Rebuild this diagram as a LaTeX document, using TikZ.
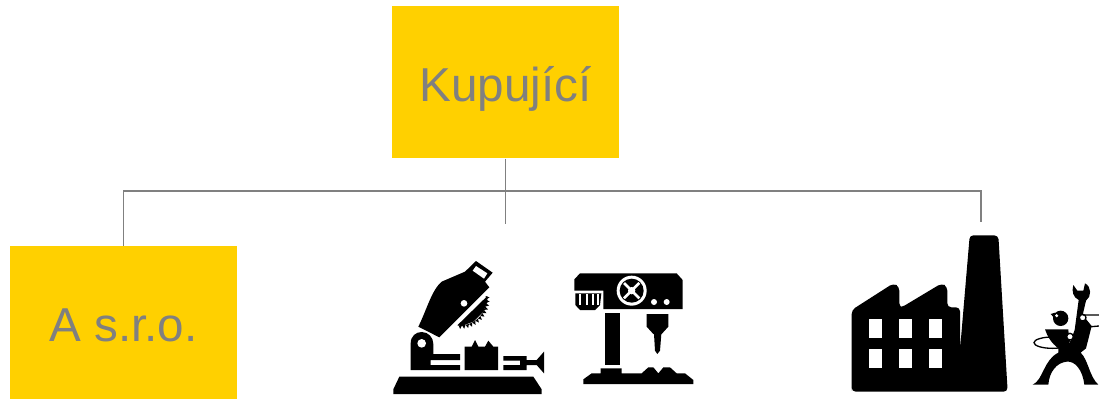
\documentclass[tikz,border=0pt]{standalone}
\usepackage{fontspec}
\setmainfont{Liberation Sans}
\usepackage{xcolor}
\usepackage{tikz}
\usetikzlibrary{positioning,calc}
\definecolor{signal}{RGB}{255,208,0}
\definecolor{slate}{RGB}{128,128,128}
\newcommand{\boxtext}[1]{{\fontsize{35.7}{40}\selectfont\color{slate}\raisebox{-14.5pt}[0pt][0pt]{#1}}}

\begin{document}
\begin{tikzpicture}[
  x=0.75pt,y=-0.75pt,
  party/.style={rectangle,fill=signal,minimum width=170.25pt,minimum height=114.5pt,
    inner sep=0pt,align=center},
  link/.style={slate,line width=1.3pt},
  solid icon/.style={fill=black},
  cutout/.style={fill=white},
  zoomed/.style={x=0.25pt,y=-0.25pt}
]
\useasboundingbox (0,0) rectangle (1099,400);
\node[party] (buyer) at (505.5,82) {\boxtext{Kupující}};
\node[party] (firm) at (123.5,322.5) {\boxtext{A s.r.o.}};
\coordinate (bus) at (505.5,191);
\coordinate (tools) at (505.5,224);
\coordinate (plant) at (981,222);
\draw[link] (buyer.south) -- (tools);
\draw[link] (bus) -| (firm.north);
\draw[link] (bus) -| (plant);

% saw
\begin{scope}[shift={(370,230)},zoomed]
\fill[solid icon] (70,492) -- (70,478) -- (88,440) -- (490,440) -- (515,478) -- (515,492) -- cycle;
\fill[solid icon] (122,420) -- (122,340) .. controls (122,318) and (138,306) .. (155,306)
  .. controls (175,306) and (190,322) .. (190,342) -- (190,372) -- (270,372) -- (270,390)
  -- (182,390) -- (182,405) -- (270,405) -- (270,420) -- cycle;
\fill[cutout] (155,340) circle[radius=13];
\fill[solid icon] (284,420) -- (284,350) -- (305,350) -- (315,330) -- (325,350) -- (345,350)
  -- (355,332) -- (370,350) -- (384,350) -- (384,420) -- cycle;
\fill[solid icon] (400,420) -- (400,405) -- (450,405) -- (450,392) -- (400,392) -- (400,378)
  -- (470,378) -- (470,390) -- (500,390) -- (522,365) -- (522,430) -- (500,405) -- (470,405)
  -- (470,420) -- cycle;
\fill[solid icon] (145,290) .. controls (170,240) and (185,180) .. (215,155) -- (285,125)
  -- (318,93) -- (368,128) -- (345,155) -- (358,172) -- (208,322) -- cycle;
\fill[cutout] (318,108) -- (352,130) -- (342,146) -- (308,122) -- cycle;
\fill[cutout] (282,220) circle[radius=10];
\fill[solid icon] (352,198) -- (262,286) -- (275,288) -- (310,275) -- (340,245) -- (352,215) -- cycle;
\foreach \a in {-5,3,...,95}
  \fill[solid icon] ({272+76*cos(\a-4)},{210+76*sin(\a-4)}) -- ({272+87*cos(\a)},{210+87*sin(\a)})
    -- ({272+76*cos(\a+4)},{210+76*sin(\a+4)}) -- cycle;
\end{scope}

% drill press
\begin{scope}[shift={(370,230)},zoomed]
\fill[solid icon] (613,182) -- (613,148) -- (630,130) -- (920,130) -- (938,150) -- (938,237)
  -- (700,237) -- (700,182) -- cycle;
\fill[solid icon] (616,190) -- (694,190) -- (690,225) -- (675,240) -- (630,240) -- (616,225) -- cycle;
\foreach \x in {628,647,666,682}
  \fill[cutout] (\x,192) rectangle ++(6,32);
\fill[cutout] (785,182) circle[radius=45];
\fill[solid icon] (785,182) circle[radius=36];
\draw[white,line width=2pt] (762,159) -- (808,205) (808,159) -- (762,205);
\fill[cutout] (785,182) circle[radius=11];
\fill[cutout] (852,216) circle[radius=9];
\fill[cutout] (890,216) circle[radius=9];
\fill[solid icon] (706,250) rectangle (750,405);
\fill[solid icon] (830,252) -- (895,252) -- (895,290) -- (875,312) -- (850,312) -- (830,290) -- cycle;
\fill[solid icon] (852,312) -- (874,312) -- (870,362) -- (862,372) -- (855,362) -- cycle;
\fill[solid icon] (640,462) -- (640,448) -- (665,430) -- (692,430) -- (692,415) -- (755,415)
  -- (755,430) -- (815,430) -- (835,412) -- (850,412) -- (865,430) -- (880,412) -- (900,412)
  -- (920,430) -- (945,430) -- (970,450) -- (970,462) -- cycle;
\end{scope}

% factory
\begin{scope}[shift={(840,220)},zoomed]
\fill[solid icon,rounded corners=3pt] (35,500) -- (35,270) -- (160,190) -- (178,200) -- (178,262)
  -- (185,262) -- (305,190) -- (322,200) -- (322,262) -- (360,262) [sharp corners] -- (360,390)
  -- (388,60) [rounded corners=3pt] -- (388,46) -- (475,46) -- (503,515) -- (35,515) -- cycle;
\foreach \x in {88,178,268}
  \foreach \y in {298,388}
    \fill[cutout] (\x,\y) rectangle ++(37,55);
\end{scope}

% worker
\begin{scope}[shift={(840,220)},zoomed]
\fill[solid icon] (578,494) .. controls (610,480) and (610,420) .. (655,398) -- (655,385)
  .. controls (635,370) and (622,350) .. (615,328) -- (685,328) -- (688,372)
  -- (704,330) -- (716,240) .. controls (700,232) and (694,215) .. (700,195) -- (712,212)
  -- (730,212) -- (735,190) .. controls (755,200) and (755,230) .. (738,242) -- (728,285)
  -- (755,318) -- (738,385) -- (722,398) .. controls (745,420) and (748,470) .. (775,494)
  -- (733,494) .. controls (728,450) and (705,422) .. (680,425)
  .. controls (650,428) and (628,455) .. (625,494) -- cycle;
\fill[solid icon] (662,295) circle[radius=23];
\fill[solid icon] (632,282) -- (645,278) -- (648,300) -- cycle;
\fill[cutout] (650,287) circle[radius=5];
\draw[black,line width=1pt] (637,368) ellipse[x radius=55,y radius=17];
\draw[black,line width=1pt,fill=white] (690,350) circle[radius=10];
\draw[black,line width=1pt,fill=white] (728,293) circle[radius=10];
\draw[black,line width=1pt] (728,285) -- (777,285) (732,322) -- (777,318);
\end{scope}
\end{tikzpicture}
\end{document}
